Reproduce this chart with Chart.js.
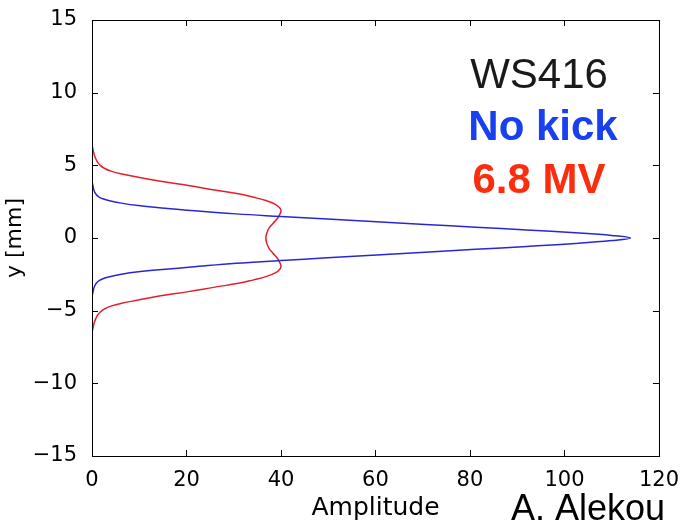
<!DOCTYPE html>
<html>
<head>
<meta charset="utf-8">
<script src="https://cdn.jsdelivr.net/npm/chart.js@4"></script>
<style>
  html, body { margin: 0; padding: 0; background: #fff; }
  #wrap { width: 683px; height: 523px; }
</style>
</head>
<body>
<div id="wrap"><canvas id="profileChart" width="683" height="523"></canvas></div>
<script>
// beam profiles: position y [mm] vs amplitude
const noKickY = [3.95, 3.72, 3.5, 3.3, 3.1, 2.95, 2.8, 2.7, 2.58, 2.4, 2.23, 2.05, 1.89, 1.66, 1.48, 1.3, 1.13, 0.93, 0.74, 0.55, 0.36, 0.18, 0,
                 -0.18, -0.38, -0.58, -0.78, -0.98, -1.18, -1.36, -1.55, -1.74, -2.0, -2.15, -2.33, -2.5, -2.68, -2.8, -2.92, -3.08, -3.25, -3.45, -3.65, -3.85, -4.05];
const noKickAmp = [0, 0.12, 0.25, 0.4, 0.65, 1.0, 1.6, 2.3, 3.5, 6.2, 9.8, 15.5, 21, 30.5, 40, 49.8, 59.3, 70.5, 81.2, 92, 102.3, 110, 114,
                   110, 102.3, 92, 81.2, 70.5, 59.3, 49.8, 40, 30.5, 21, 15.5, 9.8, 6.2, 3.5, 2.3, 1.6, 1.0, 0.65, 0.4, 0.25, 0.12, 0];

const mvY = [6.4, 6.0, 5.7, 5.45, 5.2, 5.0, 4.8, 4.6, 4.4, 4.18, 3.9, 3.61, 3.3, 3.04, 2.8, 2.58, 2.3, 2.05, 1.85, 1.6, 1.32, 1.0, 0.7, 0.35, 0,
             -0.37, -0.73, -1.05, -1.38, -1.67, -1.93, -2.13, -2.38, -2.66, -2.88, -3.12, -3.38, -3.69, -3.98, -4.27, -4.49, -4.69, -4.89, -5.09, -5.3, -5.55, -5.8, -6.1, -6.5];
const mvAmp = [0, 0.28, 0.5, 0.8, 1.2, 1.75, 2.6, 4.0, 6.3, 9.8, 14.5, 20.4, 26, 31, 34.2, 36.8, 38.9, 39.8, 40, 39.7, 39.2, 38.3, 37.5, 37.0, 36.8,
               37.0, 37.5, 38.3, 39.2, 39.7, 40, 39.8, 38.9, 36.8, 34.2, 31, 26, 20.4, 14.5, 9.8, 6.3, 4.0, 2.6, 1.75, 1.2, 0.8, 0.5, 0.28, 0];

const xTicks = [0, 20, 40, 60, 80, 100, 120];
const yTicks = [-15, -10, -5, 0, 5, 10, 15];

const toPoints = (amps, ys) => amps.map((a, i) => ({ x: a, y: ys[i] }));
const fmt = v => (v < 0 ? '\u2212' + Math.abs(v) : String(v));

// matplotlib style box with inward ticks, plus text overlays
const boxPlugin = {
  id: 'boxTicks',
  afterDraw(chart) {
    const { ctx, chartArea: a, scales } = chart;
    ctx.save();
    ctx.strokeStyle = '#000';
    ctx.lineWidth = 1;
    ctx.strokeRect(a.left + 0.5, a.top + 0.5, a.right - a.left, a.bottom - a.top);
    const len = 6;
    ctx.beginPath();
    xTicks.forEach(v => {
      const px = Math.round(scales.x.getPixelForValue(v)) + 0.5;
      ctx.moveTo(px, a.bottom); ctx.lineTo(px, a.bottom - len);
      ctx.moveTo(px, a.top); ctx.lineTo(px, a.top + len);
    });
    yTicks.forEach(v => {
      const py = Math.round(scales.y.getPixelForValue(v)) + 0.5;
      ctx.moveTo(a.left, py); ctx.lineTo(a.left + len, py);
      ctx.moveTo(a.right, py); ctx.lineTo(a.right - len, py);
    });
    ctx.stroke();

    ctx.textAlign = 'center';
    ctx.textBaseline = 'alphabetic';
    ctx.font = '42px "Liberation Sans", Arial, sans-serif';
    ctx.fillStyle = '#1a1a1a';
    ctx.fillText('WS416', 539, 88);
    ctx.font = 'bold 42px "Liberation Sans", Arial, sans-serif';
    ctx.fillStyle = 'rgb(24,64,240)';
    ctx.fillText('No kick', 543, 140);
    ctx.fillStyle = 'rgb(250,45,15)';
    ctx.fillText('6.8 MV', 539, 193);

    ctx.textAlign = 'left';
    ctx.font = '36px "Liberation Sans", Arial, sans-serif';
    ctx.fillStyle = '#000';
    ctx.fillText('A. Alekou', 511, 520);
    ctx.restore();
  }
};

new Chart(document.getElementById('profileChart').getContext('2d'), {
  type: 'scatter',
  data: {
    datasets: [
      {
        label: 'No kick',
        data: toPoints(noKickAmp, noKickY),
        showLine: true,
        borderColor: 'rgb(40,40,210)',
        borderWidth: 1.5,
        pointRadius: 0,
        tension: 0.4
      },
      {
        label: '6.8 MV',
        data: toPoints(mvAmp, mvY),
        showLine: true,
        borderColor: 'rgb(230,30,40)',
        borderWidth: 1.5,
        pointRadius: 0,
        tension: 0.4
      }
    ]
  },
  options: {
    responsive: false,
    animation: false,
    layout: { padding: { top: 20, right: 24, left: 0, bottom: 0 } },
    plugins: {
      legend: { display: false },
      tooltip: { enabled: false }
    },
    scales: {
      x: {
        type: 'linear',
        min: 0,
        max: 120,
        afterFit: s => { s.height = 67; },
        afterBuildTicks: s => { s.ticks = xTicks.map(v => ({ value: v })); },
        grid: { display: false },
        border: { display: false },
        ticks: {
          color: '#000',
          padding: 4,
          maxRotation: 0,
          font: { family: '"DejaVu Sans"', size: 21 },
          callback: fmt
        },
        title: {
          display: true,
          text: 'Amplitude',
          color: '#000',
          font: { family: '"DejaVu Sans"', size: 25 },
          padding: { top: 0, bottom: 0 }
        }
      },
      y: {
        type: 'linear',
        min: -15,
        max: 15,
        afterFit: s => { s.width = 92; },
        afterBuildTicks: s => { s.ticks = yTicks.map(v => ({ value: v })); },
        grid: { display: false },
        border: { display: false },
        ticks: {
          color: '#000',
          padding: 7,
          font: { family: '"DejaVu Sans"', size: 21 },
          callback: fmt
        },
        title: {
          display: true,
          text: 'y [mm]',
          color: '#000',
          font: { family: '"DejaVu Sans"', size: 22 },
          padding: { top: 2, bottom: 0 }
        }
      }
    }
  },
  plugins: [boxPlugin]
});
</script>
</body>
</html>
